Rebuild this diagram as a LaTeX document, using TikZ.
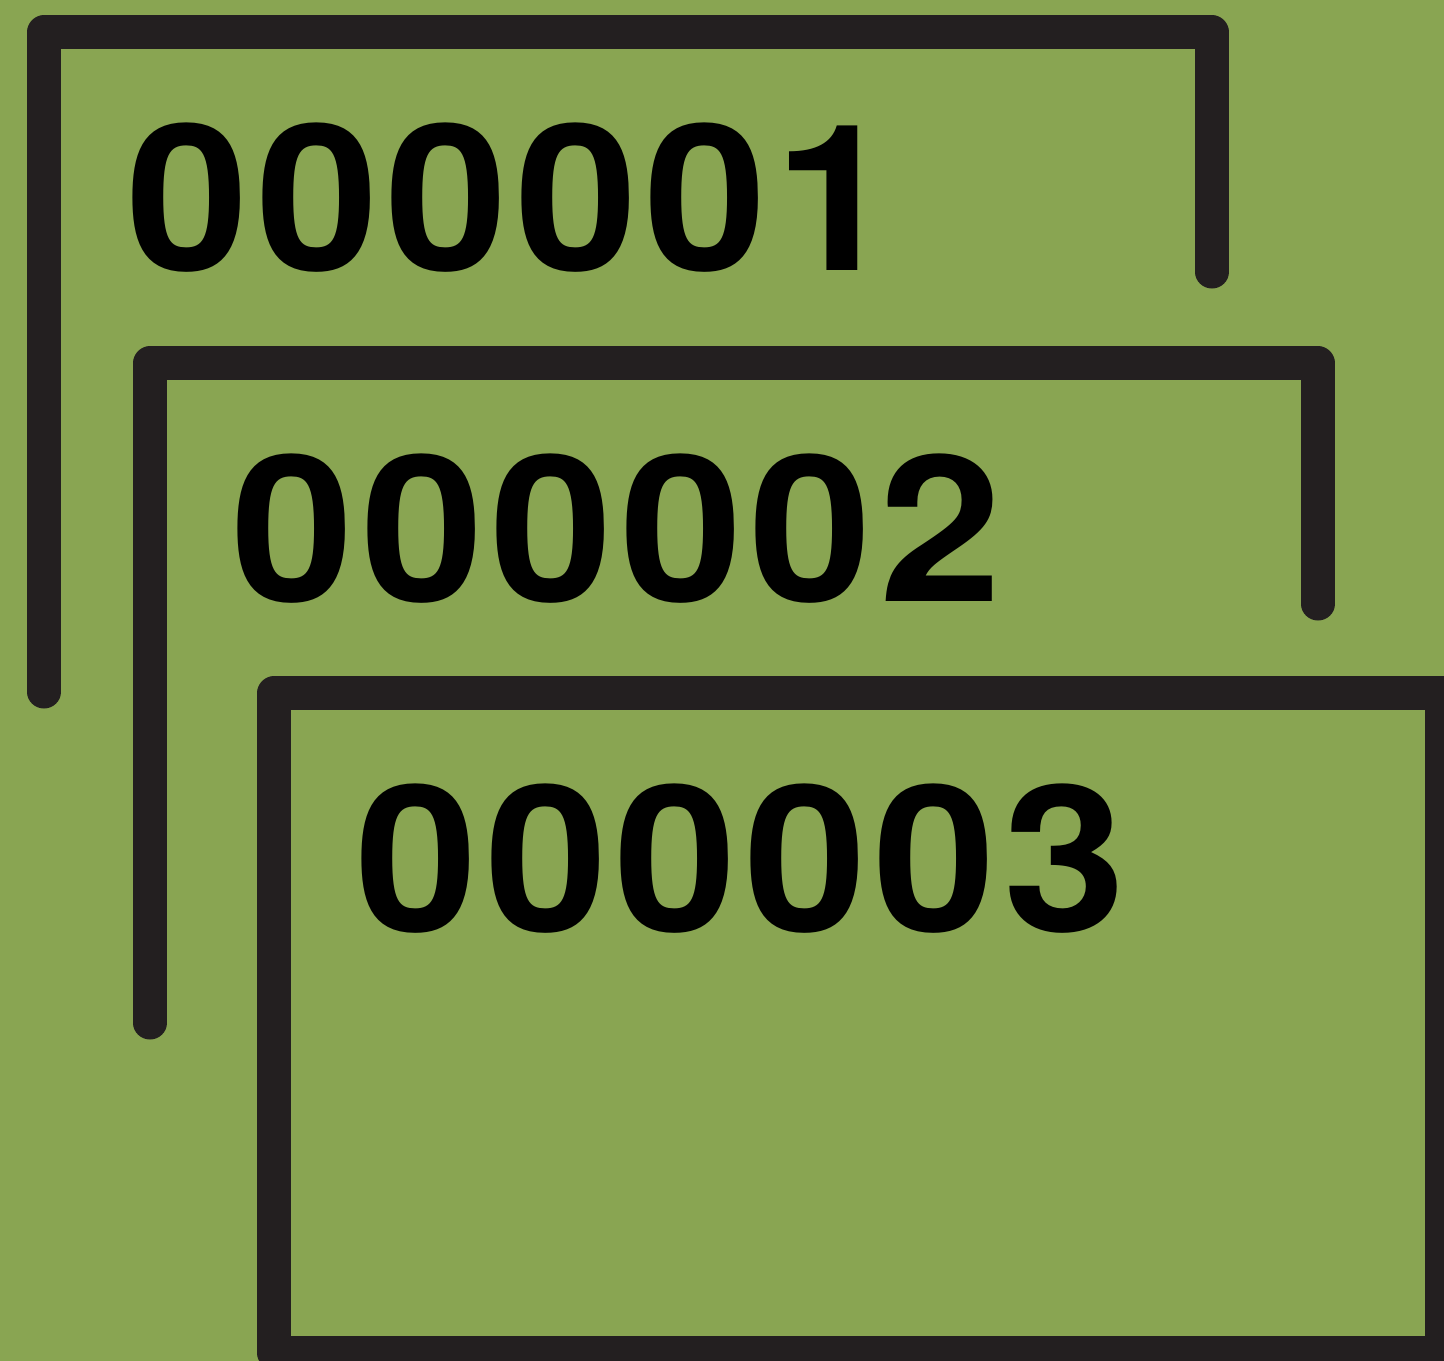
\documentclass[tikz,border=0pt]{standalone}
\usepackage{fontspec}
\setmainfont{TeX Gyre Heros}
\usepackage{tikz}
\definecolor{cardgreen}{RGB}{137,165,82}
\definecolor{carddark}{RGB}{35,31,32}

\begin{document}
\begin{tikzpicture}[
    x=0.01cm, y=-0.01cm,
    card/.style={draw=carddark, line width=9.4pt, line cap=round, line join=round},
    number/.style={anchor=base west, inner sep=0pt, font=\bfseries\fontsize{58pt}{58pt}\selectfont\addfontfeature{LetterSpace=3.2}, xscale=1.08, transform shape}
]
    % Background
    \useasboundingbox (0,0) rectangle (1444,1361);
    \clip (0,0) rectangle (1444,1361);
    \fill[cardgreen] (0,0) rectangle (1444,1361);

    % First card
    \draw[card] (44,692) -- (44,32) -- (1212,32) -- (1212,272);
    \node[number] (num1) at (126,271) {000001};

    % Second card
    \draw[card] (150,1023) -- (150,363) -- (1318,363) -- (1318,604);
    \node[number] (num2) at (231,602) {000002};

    % Third card
    \draw[card] (274,693) rectangle (1442,1353);
    \node[number] (num3) at (355,932) {000003};
\end{tikzpicture}
\end{document}
